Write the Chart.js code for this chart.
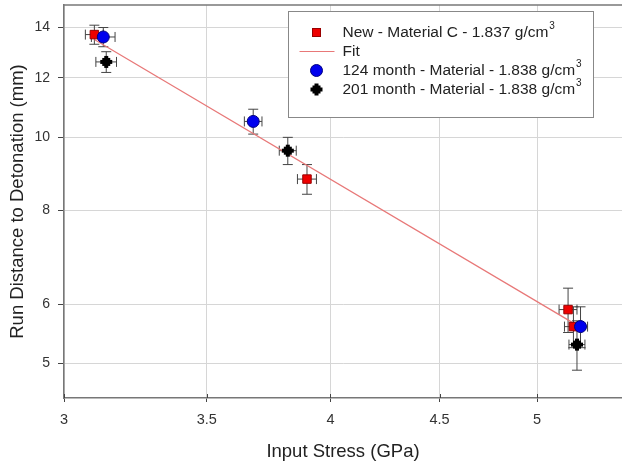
<!DOCTYPE html>
<html>
<head>
<meta charset="utf-8">
<script src="https://cdn.jsdelivr.net/npm/chart.js@4.4.0/dist/chart.umd.min.js"></script>
<style>
    body { margin: 0; background: #fff; }
    #wrap { width: 622px; height: 468px; }
</style>
</head>
<body>
<div id="wrap"><canvas id="runChart" width="622" height="468"></canvas></div>
<script>
// Data (x: input stress GPa, y: run distance mm)
const newX = [3.10, 3.90, 5.17, 5.20];
const newY = [13.7, 8.8, 5.9, 5.6];
const newXErr = [0.03, 0.04, 0.05, 0.05];
const newYErr = [0.4, 0.4, 0.4, 0.35];

const m124X = [3.13, 3.68, 5.24];
const m124Y = [13.6, 10.5, 5.6];
const m124XErr = [0.04, 0.035, 0.04];
const m124YErr = [0.4, 0.4, 0.35];

const m201X = [3.14, 3.82, 5.22];
const m201Y = [12.6, 9.6, 5.3];
const m201XErr = [0.035, 0.035, 0.045];
const m201YErr = [0.4, 0.4, 0.4];

const fitX = [3.10, 5.20];
const fitY = [13.5, 5.66];

const xTicks = [3, 3.5, 4, 4.5, 5];
const yTicks = [5, 6, 8, 10, 12, 14];

const legendLabels = [
    ['New - Material C - 1.837 g/cm', '3'],
    ['Fit', ''],
    ['124 month - Material - 1.838 g/cm', '3'],
    ['201 month - Material - 1.838 g/cm', '3']
];

const FONT = '"Liberation Sans", Arial, sans-serif';
const RED = '#ee0000';
const BLUE = '#0000ee';
const FIT_COLOR = '#e87878';

function toPoints(xs, ys) {
    return xs.map((x, i) => ({ x: x, y: ys[i] }));
}

// thick plus marker used for the 201 month series
function makePlus() {
    const c = document.createElement('canvas');
    c.width = 14;
    c.height = 14;
    const g = c.getContext('2d');
    g.fillStyle = '#000';
    g.fillRect(1, 5, 12, 4);
    g.fillRect(5, 1, 4, 12);
    g.fillRect(3, 3, 8, 8);
    return c;
}
const plusMarker = makePlus();

// error bars drawn under the markers
const errorBars = {
    id: 'errorBars',
    beforeDatasetsDraw(chart) {
        const ctx = chart.ctx;
        const xs = chart.scales.x;
        const ys = chart.scales.y;
        const cap = 5;
        ctx.save();
        ctx.strokeStyle = '#444';
        ctx.lineWidth = 1;
        chart.data.datasets.forEach(ds => {
            if (!ds.xErr) return;
            ds.data.forEach((p, i) => {
                const px = xs.getPixelForValue(p.x);
                const py = ys.getPixelForValue(p.y);
                const x0 = xs.getPixelForValue(p.x - ds.xErr[i]);
                const x1 = xs.getPixelForValue(p.x + ds.xErr[i]);
                const y0 = ys.getPixelForValue(p.y - ds.yErr[i]);
                const y1 = ys.getPixelForValue(p.y + ds.yErr[i]);
                ctx.beginPath();
                ctx.moveTo(px, y0); ctx.lineTo(px, y1);
                ctx.moveTo(px - cap, y0); ctx.lineTo(px + cap, y0);
                ctx.moveTo(px - cap, y1); ctx.lineTo(px + cap, y1);
                ctx.moveTo(x0, py); ctx.lineTo(x1, py);
                ctx.moveTo(x0, py - cap); ctx.lineTo(x0, py + cap);
                ctx.moveTo(x1, py - cap); ctx.lineTo(x1, py + cap);
                ctx.stroke();
            });
        });
        ctx.restore();
    }
};

// top frame line, inward ticks on x and the boxed legend
const frameAndLegend = {
    id: 'frameAndLegend',
    afterDraw(chart) {
        const ctx = chart.ctx;
        const area = chart.chartArea;
        const xs = chart.scales.x;
        ctx.save();

        ctx.strokeStyle = '#777';
        ctx.lineWidth = 1.5;
        ctx.beginPath();
        ctx.moveTo(area.left, area.top);
        ctx.lineTo(area.right, area.top);
        ctx.stroke();

        ctx.strokeStyle = '#444';
        ctx.lineWidth = 1;
        xTicks.forEach(v => {
            const px = Math.round(xs.getPixelForValue(v)) + 0.5;
            ctx.beginPath();
            ctx.moveTo(px, area.bottom);
            ctx.lineTo(px, area.bottom - 4);
            ctx.stroke();
        });

        // legend box
        const left = 288.5, top = 11.5, w = 305, h = 106;
        ctx.fillStyle = '#fff';
        ctx.fillRect(left, top, w, h);
        ctx.strokeStyle = '#888';
        ctx.lineWidth = 1;
        ctx.strokeRect(left, top, w, h);

        const mx = left + 28;
        const rows = [top + 21, top + 40, top + 59, top + 78];

        ctx.fillStyle = RED;
        ctx.strokeStyle = '#990000';
        ctx.fillRect(mx - 4, rows[0] - 4, 8, 8);
        ctx.strokeRect(mx - 4, rows[0] - 4, 8, 8);

        ctx.strokeStyle = FIT_COLOR;
        ctx.beginPath();
        ctx.moveTo(left + 11, rows[1]);
        ctx.lineTo(left + 46, rows[1]);
        ctx.stroke();

        ctx.fillStyle = BLUE;
        ctx.strokeStyle = '#000080';
        ctx.beginPath();
        ctx.arc(mx, rows[2], 6, 0, Math.PI * 2);
        ctx.fill();
        ctx.stroke();

        ctx.drawImage(plusMarker, mx - 7, rows[3] - 7);

        ctx.fillStyle = '#222';
        ctx.textBaseline = 'middle';
        legendLabels.forEach(([label, sup], i) => {
            const tx = left + 54;
            ctx.font = '15.5px ' + FONT;
            ctx.fillText(label, tx, rows[i]);
            if (sup) {
                const wd = ctx.measureText(label).width;
                ctx.font = '10px ' + FONT;
                ctx.fillText(sup, tx + wd + 1, rows[i] - 6);
            }
        });

        ctx.restore();
    }
};

const scatterCommon = {
    type: 'scatter',
    showLine: false,
    pointBorderWidth: 1
};

new Chart(document.getElementById('runChart'), {
    data: {
        datasets: [
            {
                ...scatterCommon,
                label: 'New - Material C - 1.837 g/cm3',
                data: toPoints(newX, newY),
                xErr: newXErr,
                yErr: newYErr,
                pointStyle: 'rect',
                pointRadius: 6,
                backgroundColor: RED,
                borderColor: '#990000',
                order: 3
            },
            {
                type: 'line',
                label: 'Fit',
                data: toPoints(fitX, fitY),
                borderColor: FIT_COLOR,
                borderWidth: 1.2,
                pointRadius: 0,
                fill: false,
                order: 4
            },
            {
                ...scatterCommon,
                label: '124 month - Material - 1.838 g/cm3',
                data: toPoints(m124X, m124Y),
                xErr: m124XErr,
                yErr: m124YErr,
                pointStyle: 'circle',
                pointRadius: 6,
                backgroundColor: BLUE,
                borderColor: '#000080',
                order: 2
            },
            {
                ...scatterCommon,
                label: '201 month - Material - 1.838 g/cm3',
                data: toPoints(m201X, m201Y),
                xErr: m201XErr,
                yErr: m201YErr,
                pointStyle: plusMarker,
                pointRadius: 7,
                backgroundColor: '#000',
                borderColor: '#000',
                order: 1
            }
        ]
    },
    options: {
        responsive: false,
        animation: false,
        layout: { autoPadding: false, padding: { top: 5, right: 0, left: 0, bottom: 0 } },
        plugins: {
            legend: { display: false },
            tooltip: { enabled: false }
        },
        scales: {
            x: {
                type: 'logarithmic',
                min: 3,
                max: 5.48,
                afterBuildTicks: s => { s.ticks = xTicks.map(v => ({ value: v })); },
                afterFit: s => {
                    s.height = 70;
                    s.paddingLeft = 0;
                    s.paddingRight = 0;
                },
                ticks: {
                    callback: v => String(v),
                    color: '#333',
                    font: { family: FONT, size: 14.5 },
                    padding: 9,
                    maxRotation: 0,
                    autoSkip: false
                },
                grid: { color: '#d6d6d6', tickColor: '#444', tickLength: 4 },
                border: { color: '#777', width: 1.5 },
                title: {
                    display: true,
                    text: 'Input Stress (GPa)',
                    color: '#222',
                    font: { family: FONT, size: 18.5 },
                    padding: { top: 0, bottom: 5 }
                }
            },
            y: {
                type: 'logarithmic',
                min: 4.5,
                max: 15,
                afterBuildTicks: s => { s.ticks = yTicks.map(v => ({ value: v })); },
                afterFit: s => {
                    s.width = 64;
                    s.paddingTop = 0;
                    s.paddingBottom = 0;
                },
                ticks: {
                    callback: v => String(v),
                    color: '#333',
                    font: { family: FONT, size: 14 },
                    padding: 8,
                    autoSkip: false
                },
                grid: { color: '#d6d6d6', tickColor: '#444', tickLength: 6 },
                border: { color: '#777', width: 1.5 },
                title: {
                    display: true,
                    text: 'Run Distance to Detonation (mm)',
                    color: '#222',
                    font: { family: FONT, size: 18.5 },
                    padding: { top: 7, bottom: 0 }
                }
            }
        }
    },
    plugins: [errorBars, frameAndLegend]
});
</script>
</body>
</html>
